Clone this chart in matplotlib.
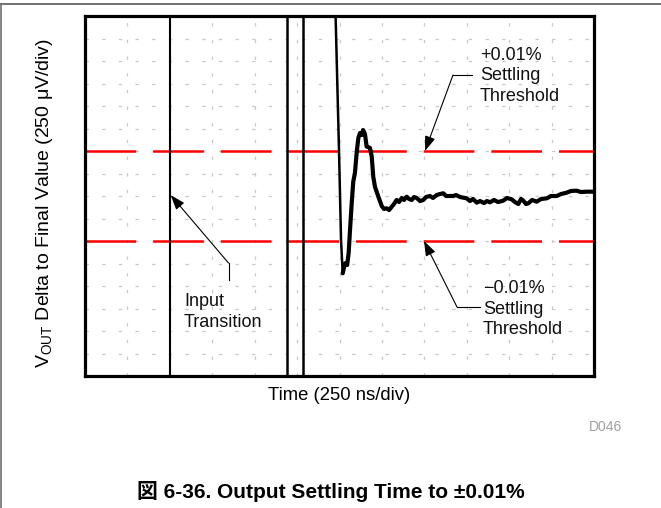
import numpy as np
import matplotlib
matplotlib.use("Agg")
import matplotlib.pyplot as plt
from matplotlib.lines import Line2D

plt.rcParams['font.family'] = ['Liberation Sans', 'Noto Sans CJK JP', 'DejaVu Sans']
plt.rcParams['lines.scale_dashes'] = False

# ---- data (time in ns, voltage delta in uV; 250 ns/div, 250 uV/div) ----
x_min, x_max = 0, 3000
y_min, y_max = -2000, 2000
div_ns = 250
div_uv = 250
threshold_uv = 500          # +/-0.01 %
input_transition_ns = 500

# off-scale edges of the output step (full-height traces)
edge1_ns = 1191
edge2_ns = 1285
# falling edge entering from top down to the undershoot
fall_t = [1473, 1497, 1509, 1519]
fall_v = [2300, 511, -489, -859]

# settling trace
settle_t = [1519, 1532, 1545, 1554, 1562, 1572, 1581, 1591, 1601, 1611, 1621, 1631,
            1639, 1650, 1660, 1668, 1680, 1690, 1699, 1709, 1729, 1749, 1762, 1778,
            1792, 1808, 1821, 1837, 1851, 1867, 1880, 1896, 1910, 1926, 1939, 1955,
            1975, 1994, 2010, 2033, 2051, 2073, 2092, 2112, 2128, 2151, 2171, 2187,
            2210, 2250, 2269, 2287, 2309, 2328, 2352, 2369, 2387, 2411, 2434, 2465,
            2487, 2515, 2534, 2554, 2570, 2583, 2599, 2613, 2635, 2662, 2688, 2721,
            2747, 2780, 2806, 2839, 2864, 2898, 2923, 2957, 2987, 3012]
settle_v = [-859, -748, -767, -633, -378, -78, 159, 256, 478, 644, 700, 678,
            733, 689, 548, 544, 533, 437, 214, 103, -8, -111, -144, -137,
            -156, -119, -89, -44, -67, -22, -44, -8, -33, -44, -11, -22,
            -56, -44, -11, 0, -22, 11, 22, 30, 0, 0, 0, 11,
            -11, -26, -56, -33, -74, -56, -78, -56, -70, -44, -67, -52,
            -22, -37, -67, -89, -33, -52, -89, -81, -44, -63, -33, -26,
            0, 0, 22, 37, 56, 59, 44, 48, 48, 44]

W, H = 661, 508
fig = plt.figure(figsize=(W / 100, H / 100), dpi=100)
ax = fig.add_axes([85 / W, 1 - 376 / H, (594 - 85) / W, (376 - 16) / H])
ax.set_xlim(x_min, x_max)
ax.set_ylim(y_min, y_max)
ax.set_xticks([])
ax.set_yticks([])
for s in ax.spines.values():
    s.set_linewidth(2.3)
    s.set_color('black')
    s.set_zorder(10)

# grid
grid_kw = dict(color='#c8c8c8', lw=0.9, dashes=(2.4, 9.6), zorder=1)
for gx in np.arange(x_min + div_ns, x_max, div_ns):
    ax.axvline(gx, **grid_kw)
for gy in np.arange(y_min + div_uv, y_max, div_uv):
    ax.axhline(gy, **grid_kw)

# thresholds
for th in (threshold_uv, -threshold_uv):
    ax.axhline(th, color='#ff0000', lw=1.8, dashes=(36.5, 12.2), zorder=3)

# input transition
ax.axvline(input_transition_ns, color='black', lw=1.5, zorder=4)

# output edges
for ex in (edge1_ns, edge2_ns):
    ax.plot([ex, ex], [y_min - 300, y_max + 300], color='black', lw=1.8, zorder=4)
ax.plot(fall_t, fall_v, color='black', lw=1.8, zorder=4)
ax.plot(settle_t, settle_v, color='black', lw=3.0, zorder=5,
        solid_joinstyle='round', solid_capstyle='round')

# annotations (positions in figure pixels)
def fp(px, py):
    return (px, H - py)

txt_kw = dict(fontsize=13, color='#111111', linespacing=1.28, zorder=6)
arrow_kw = dict(arrowstyle='-|>,head_length=0.9,head_width=0.32', color='black',
                lw=0.8, shrinkA=0, shrinkB=0)

# +0.01 %
ax.annotate('', xy=(2004, threshold_uv), xycoords='data',
            xytext=fp(453, 75), textcoords='figure pixels', arrowprops=arrow_kw)
ax.add_artist(Line2D([453, 472], [H - 75, H - 75], transform=None, color='black', lw=0.8))
fig.text(480 / W, 1 - 76 / H, '+0.01%\nSettling\nThreshold', ha='left', va='center', **txt_kw)

# -0.01 %
ax.annotate('', xy=(1998, -threshold_uv), xycoords='data',
            xytext=fp(457, 307), textcoords='figure pixels', arrowprops=arrow_kw)
ax.add_artist(Line2D([457, 480], [H - 307, H - 307], transform=None, color='black', lw=0.8))
fig.text(483 / W, 1 - 309 / H, '\u22120.01%\nSettling\nThreshold', ha='left', va='center', **txt_kw)

# input transition
ax.annotate('', xy=(input_transition_ns + 5, 10), xycoords='data',
            xytext=fp(228.5, 263), textcoords='figure pixels', arrowprops=arrow_kw)
ax.add_artist(Line2D([228.5, 228.5], [H - 263, H - 280], transform=None, color='black', lw=0.8))
fig.text(184 / W, 1 - 312 / H, 'Input\nTransition', ha='left', va='center', **txt_kw)

# axis labels
fig.text(339.5 / W, 1 - 396 / H, 'Time (250 ns/div)', ha='center', va='center', fontsize=13.3)
fig.text(45 / W, 1 - 203 / H,
         r'V$_{\mathregular{OUT}}$ Delta to Final Value (250 $\mathregular{\mu}$V/div)',
         ha='center', va='center', rotation=90, fontsize=14)

fig.text(622 / W, 1 - 427 / H, 'D046', ha='right', va='center', fontsize=10, color='#a0a0a0')

fig.text(0.5, 1 - 492 / H, '図 6-36. Output Settling Time to ±0.01%',
         ha='center', va='center', fontsize=15, fontweight='bold')

# page frame lines
fig.add_artist(Line2D([0, 1], [1 - 3.5 / H, 1 - 3.5 / H], transform=fig.transFigure,
                      color='#707070', lw=1.4))
fig.add_artist(Line2D([0.6 / W, 0.6 / W], [0, 1 - 3.5 / H], transform=fig.transFigure,
                      color='#707070', lw=1.2))

fig.savefig('out.png', dpi=100)
